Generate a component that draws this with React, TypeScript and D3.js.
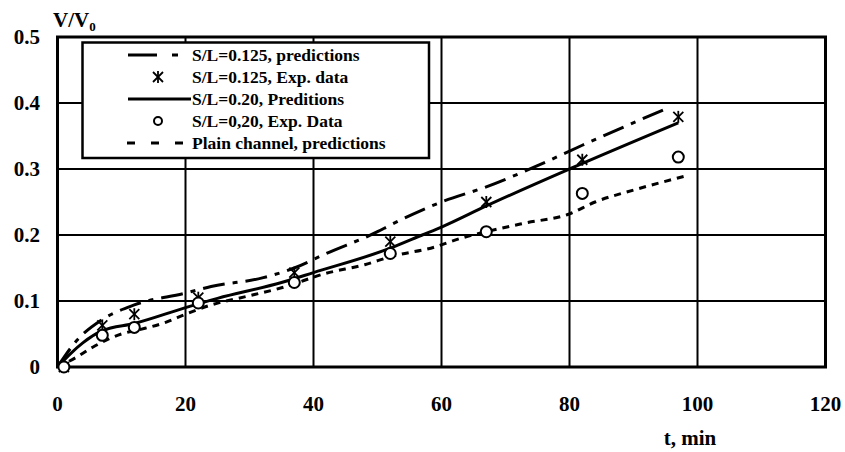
import React, { useEffect } from 'react';
import * as d3 from 'd3';

// values (t in min, V/V0)
const xTicks = [0, 20, 40, 60, 80, 100, 120];
const yTicks = [0, 0.1, 0.2, 0.3, 0.4, 0.5];
const yTickLabels = ['0', '0.1', '0.2', '0.3', '0.4', '0.5'];

const pred0125: [number, number][] = [
  [0, 0], [3, 0.04], [7, 0.072], [12, 0.094], [20, 0.112], [24, 0.122], [32, 0.135],
  [37, 0.15], [42, 0.172], [50, 0.205], [52, 0.215], [60, 0.25], [67, 0.273],
  [75, 0.305], [82, 0.336], [95, 0.391],
];
const exp0125: [number, number][] = [
  [1, 0], [7, 0.063], [12, 0.08], [22, 0.105], [37, 0.143], [52, 0.19], [67, 0.25], [82, 0.314], [97, 0.379],
];
const pred020: [number, number][] = [
  [0, 0], [2, 0.02], [4, 0.037], [7, 0.055], [12, 0.066], [20, 0.09], [25, 0.104],
  [35, 0.128], [40, 0.143], [52, 0.18], [57, 0.2], [60, 0.212], [67, 0.244], [80, 0.3], [97, 0.37],
];
const exp020: [number, number][] = [
  [1, 0], [7, 0.048], [12, 0.06], [22, 0.097], [37, 0.128], [52, 0.172], [67, 0.205], [82, 0.263], [97, 0.318],
];
const plain: [number, number][] = [
  [0, 0], [3, 0.015], [5.5, 0.03], [10, 0.05], [13, 0.057], [17, 0.068], [20, 0.08], [24, 0.094],
  [30, 0.108], [35, 0.12], [42, 0.142], [48, 0.155], [52, 0.167], [59, 0.182], [63, 0.195],
  [67, 0.205], [73, 0.218], [80, 0.232], [84, 0.25], [90, 0.268], [98, 0.289],
];
const legendLabels = [
  'S/L=0.125, predictions',
  'S/L=0.125, Exp. data',
  'S/L=0.20, Preditions',
  'S/L=0,20, Exp. Data',
  'Plain channel, predictions',
];

const font = '"Liberation Serif", "Times New Roman", serif';

const Star = ({ x, y }: { x: number; y: number }) => (
  <g transform={`translate(${x},${y})`} stroke="#000" strokeWidth={1.8}>
    <line x1={-5} y1={-5} x2={5} y2={5} />
    <line x1={-5} y1={5} x2={5} y2={-5} />
    <line x1={0} y1={-6} x2={0} y2={6} />
  </g>
);

const App = () => {
  useEffect(() => {
    document.body.style.margin = '0';
  }, []);

  const width = 845, height = 452;
  const x = d3.scaleLinear().domain([0, 120]).range([57.5, 825.5]);
  const y = d3.scaleLinear().domain([0, 0.5]).range([367, 37]);
  const line = d3.line<[number, number]>().x(d => x(d[0])).y(d => y(d[1])).curve(d3.curveMonotoneX);

  const lx = 82.5, ly = 42.5, lw = 346.5, lh = 115.5;
  const rowY = (i: number) => 55 + i * 22;

  return (
    <svg width={width} height={height} style={{ display: 'block', background: '#fff' }} fontFamily={font}>
      {/* grid */}
      {xTicks.slice(1, -1).map(t => (
        <line key={'gx' + t} x1={x(t)} x2={x(t)} y1={y(0.5)} y2={y(0)} stroke="#000" strokeWidth={2} />
      ))}
      {yTicks.slice(1, -1).map(t => (
        <line key={'gy' + t} x1={x(0)} x2={x(120)} y1={y(t)} y2={y(t)} stroke="#000" strokeWidth={2} />
      ))}
      <rect x={x(0)} y={y(0.5)} width={x(120) - x(0)} height={y(0) - y(0.5)} fill="none" stroke="#000" strokeWidth={3} />

      {/* series */}
      <path d={line(pred0125) || ''} fill="none" stroke="#000" strokeWidth={3} strokeDasharray="22 8 5 8" />
      <path d={line(plain) || ''} fill="none" stroke="#000" strokeWidth={3} strokeDasharray="7 6" />
      <path d={line(pred020) || ''} fill="none" stroke="#000" strokeWidth={3} />
      {exp0125.map((d, i) => <Star key={'s' + i} x={x(d[0])} y={y(d[1])} />)}
      {exp020.map((d, i) => (
        <circle key={'c' + i} cx={x(d[0])} cy={y(d[1])} r={5.5} fill="#fff" stroke="#000" strokeWidth={2} />
      ))}

      {/* legend */}
      <rect x={lx} y={ly} width={lw} height={lh} fill="#fff" stroke="#000" strokeWidth={2.5} />
      <line x1={128} x2={178} y1={rowY(0)} y2={rowY(0)} stroke="#000" strokeWidth={3} strokeDasharray="29 15 6" />
      <Star x={158} y={rowY(1)} />
      <line x1={128} x2={191} y1={rowY(2)} y2={rowY(2)} stroke="#000" strokeWidth={3} />
      <circle cx={158} cy={rowY(3)} r={4} fill="#fff" stroke="#000" strokeWidth={2} />
      <line x1={127} x2={183} y1={rowY(4)} y2={rowY(4)} stroke="#000" strokeWidth={3} strokeDasharray="8 16" />
      {legendLabels.map((l, i) => (
        <text key={l} x={192} y={rowY(i) + 5.5} fontSize={17.5} fontWeight="bold">{l}</text>
      ))}

      {/* axes labels */}
      {yTicks.map((t, i) => (
        <text key={'yl' + t} x={40} y={y(t) + 7} textAnchor="end" fontSize={21} fontWeight="bold">{yTickLabels[i]}</text>
      ))}
      {xTicks.map(t => (
        <text key={'xl' + t} x={x(t)} y={411} textAnchor="middle" fontSize={21} fontWeight="bold">{t}</text>
      ))}
      <text x={53} y={27} fontSize={21} fontWeight="bold">
        V/V<tspan fontSize={13} dy={4}>0</tspan>
      </text>
      <text x={690} y={445} textAnchor="middle" fontSize={21} fontWeight="bold">t, min</text>
    </svg>
  );
};

export default App;
